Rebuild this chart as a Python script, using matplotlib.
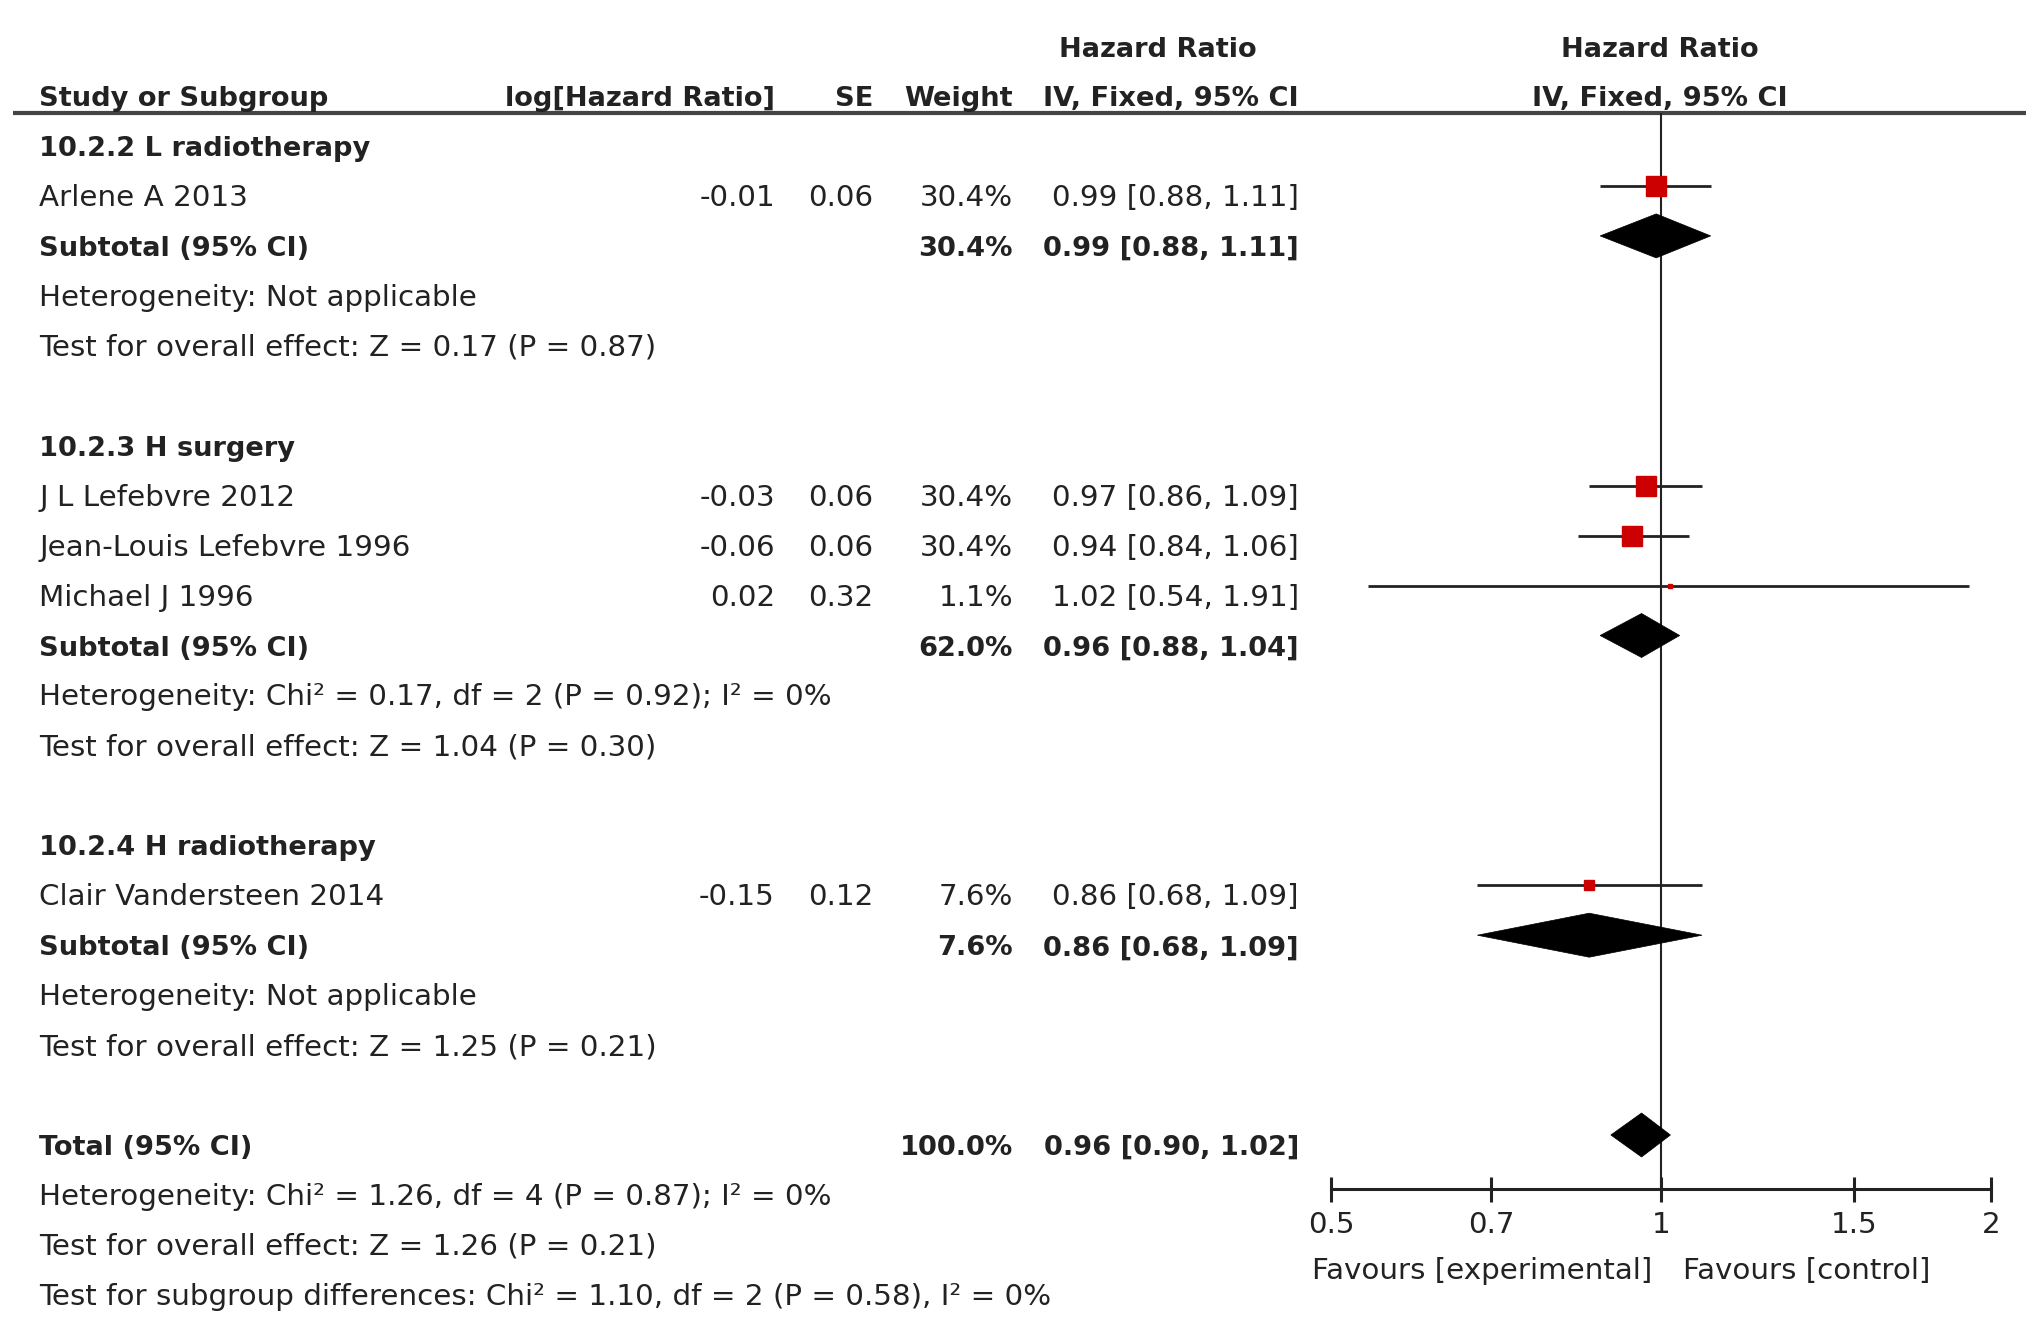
import matplotlib
matplotlib.use("Agg")
import matplotlib.pyplot as plt
from matplotlib.patches import Polygon
import numpy as np

plt.rcParams['font.family'] = ['DejaVu Sans']

# ---------------- data ----------------
study_names = ["Arlene A 2013", "J L Lefebvre 2012", "Jean-Louis Lefebvre 1996",
               "Michael J 1996", "Clair Vandersteen 2014"]
study_group = [0, 1, 1, 1, 2]
log_hr = ["-0.01", "-0.03", "-0.06", "0.02", "-0.15"]
se_vals = ["0.06", "0.06", "0.06", "0.32", "0.12"]
weights = [30.4, 30.4, 30.4, 1.1, 7.6]
hr = [0.99, 0.97, 0.94, 1.02, 0.86]
hr_lo = [0.88, 0.86, 0.84, 0.54, 0.68]
hr_hi = [1.11, 1.09, 1.06, 1.91, 1.09]

group_names = ["10.2.2 L radiotherapy", "10.2.3 H surgery", "10.2.4 H radiotherapy"]
sub_weight = [30.4, 62.0, 7.6]
sub_hr = [0.99, 0.96, 0.86]
sub_lo = [0.88, 0.88, 0.68]
sub_hi = [1.11, 1.04, 1.09]
sub_het = ["Heterogeneity: Not applicable",
           "Heterogeneity: Chi² = 0.17, df = 2 (P = 0.92); I² = 0%",
           "Heterogeneity: Not applicable"]
sub_test = ["Test for overall effect: Z = 0.17 (P = 0.87)",
            "Test for overall effect: Z = 1.04 (P = 0.30)",
            "Test for overall effect: Z = 1.25 (P = 0.21)"]

total_weight = 100.0
total_hr, total_lo, total_hi = 0.96, 0.90, 1.02
total_lines = ["Heterogeneity: Chi² = 1.26, df = 4 (P = 0.87); I² = 0%",
               "Test for overall effect: Z = 1.26 (P = 0.21)",
               "Test for subgroup differences: Chi² = 1.10, df = 2 (P = 0.58), I² = 0%"]

x_ticks = [0.5, 0.7, 1, 1.5, 2]
x_tick_labels = ["0.5", "0.7", "1", "1.5", "2"]
fav_left = "Favours [experimental]"
fav_right = "Favours [control]"

# ---------------- layout ----------------
W, H = 2032, 1324
fig = plt.figure(figsize=(W / 100, H / 100), dpi=100)
tax = fig.add_axes([0, 0, 1, 1])
tax.set_xlim(0, W)
tax.set_ylim(H, 0)
tax.axis('off')

TXT = '#222222'
FS = 21.2
FSB = 19.6
Y0, DY = 145, 49.95
BASE = 11
MARK_OFF = 9

X_LEFT = 39
X_LOG = 775
X_SE = 873
X_W = 1013
X_CI = 1299

def row_y(k):
    return Y0 + DY * k

def put(x, k, s, ha='left', bold=False, y=None):
    yy = row_y(k) if y is None else y
    tax.text(x, yy + BASE, s, ha=ha, va='baseline', fontsize=FSB if bold else FS,
             color=TXT, fontweight='bold' if bold else 'normal')

# headers
hdr1_y, hdr2_y = 46, 95
put(1158, 0, "Hazard Ratio", ha='center', bold=True, y=hdr1_y)
put(1660, 0, "Hazard Ratio", ha='center', bold=True, y=hdr1_y)
put(X_LEFT, 0, "Study or Subgroup", bold=True, y=hdr2_y)
put(X_LOG, 0, "log[Hazard Ratio]", ha='right', bold=True, y=hdr2_y)
put(X_SE, 0, "SE", ha='right', bold=True, y=hdr2_y)
put(X_W, 0, "Weight", ha='right', bold=True, y=hdr2_y)
put(X_CI, 0, "IV, Fixed, 95% CI", ha='right', bold=True, y=hdr2_y)
put(1660, 0, "IV, Fixed, 95% CI", ha='center', bold=True, y=hdr2_y)
tax.plot([13, 2026], [113, 113], color='#444444', lw=3.0, solid_capstyle='butt')

# forest axes
AX_L, AX_R = 1331, 1991
AX_TOP, AX_BOT = 113, 1189
fax = fig.add_axes([AX_L / W, 1 - AX_BOT / H, (AX_R - AX_L) / W, (AX_BOT - AX_TOP) / H])
fax.set_xscale('log')
fax.set_xlim(0.5, 2)
fax.set_ylim(AX_BOT, AX_TOP)
fax.patch.set_alpha(0)
for s in ['top', 'right', 'left']:
    fax.spines[s].set_visible(False)
fax.spines['bottom'].set_linewidth(2.2)
fax.spines['bottom'].set_color('#222222')
fax.set_yticks([])
fax.set_xticks(x_ticks)
fax.set_xticklabels(x_tick_labels)
fax.minorticks_off()
fax.tick_params(axis='x', direction='inout', length=18, width=2.2, colors='#222222',
                labelsize=FS, pad=7, labelcolor=TXT)
fax.axvline(1, color='#222222', lw=1.5, zorder=1)

SQ = 15.1  # points for 30.4% weight
DH = 22    # half height of diamond (px)

def diamond(k, c, lo, hi):
    yc = row_y(k) - MARK_OFF
    fax.add_patch(Polygon([[lo, yc], [c, yc - DH], [hi, yc], [c, yc + DH]],
                          closed=True, facecolor='black', edgecolor='black', lw=0.5, zorder=3))

k = 0
for g in range(3):
    put(X_LEFT, k, group_names[g], bold=True)
    k += 1
    for i in range(len(study_names)):
        if study_group[i] != g:
            continue
        put(X_LEFT, k, study_names[i])
        put(X_LOG, k, log_hr[i], ha='right')
        put(X_SE, k, se_vals[i], ha='right')
        put(X_W, k, f"{weights[i]:.1f}%", ha='right')
        put(X_CI, k, f"{hr[i]:.2f} [{hr_lo[i]:.2f}, {hr_hi[i]:.2f}]", ha='right')
        yc = row_y(k) - MARK_OFF
        fax.plot([hr_lo[i], hr_hi[i]], [yc, yc], color='#222222', lw=2.0, zorder=2,
                 solid_capstyle='butt')
        fax.plot([hr[i]], [yc], marker='s', ms=SQ * np.sqrt(weights[i] / 30.4),
                 color='#cc0000', mec='#cc0000', zorder=4)
        k += 1
    put(X_LEFT, k, "Subtotal (95% CI)", bold=True)
    put(X_W, k, f"{sub_weight[g]:.1f}%", ha='right', bold=True)
    put(X_CI, k, f"{sub_hr[g]:.2f} [{sub_lo[g]:.2f}, {sub_hi[g]:.2f}]", ha='right', bold=True)
    diamond(k, sub_hr[g], sub_lo[g], sub_hi[g])
    k += 1
    put(X_LEFT, k, sub_het[g]); k += 1
    put(X_LEFT, k, sub_test[g]); k += 2

put(X_LEFT, k, "Total (95% CI)", bold=True)
put(X_W, k, f"{total_weight:.1f}%", ha='right', bold=True)
put(X_CI, k, f"{total_hr:.2f} [{total_lo:.2f}, {total_hi:.2f}]", ha='right', bold=True)
diamond(k, total_hr, total_lo, total_hi)
k += 1
for line in total_lines:
    put(X_LEFT, k, line)
    k += 1

tax.text(1652, 1279, fav_left, ha='right', va='baseline', fontsize=FS, color=TXT)
tax.text(1683, 1279, fav_right, ha='left', va='baseline', fontsize=FS, color=TXT)

fig.savefig("out.png", dpi=100, facecolor='white')
